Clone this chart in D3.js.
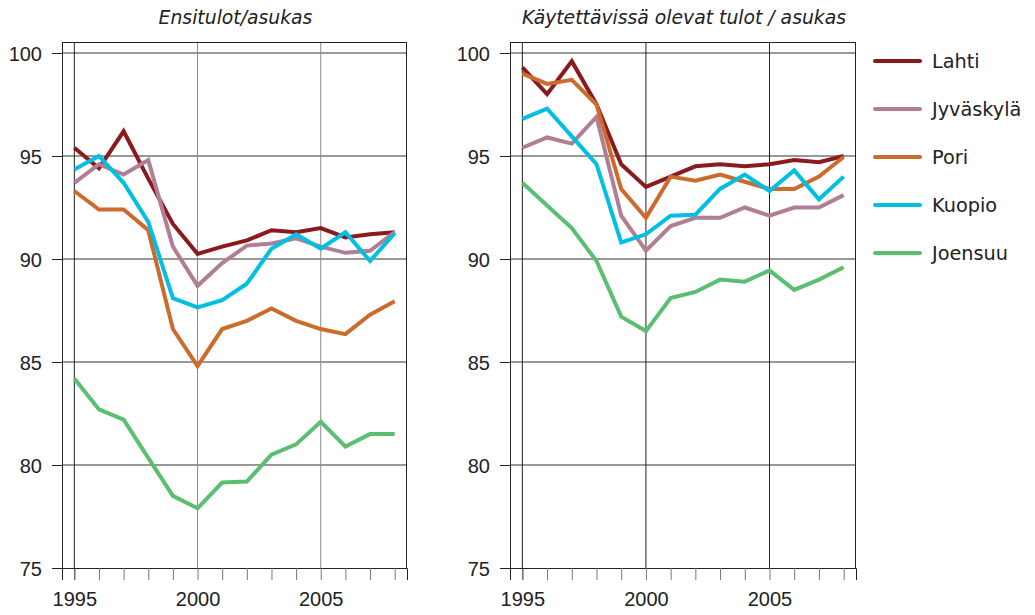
<!DOCTYPE html>
<html><head><meta charset="utf-8">
<script src="https://cdn.jsdelivr.net/npm/d3@7"></script>
<style>
body{margin:0;background:#fff;}
svg{display:block;font-family:"DejaVu Sans",Verdana,sans-serif;}
</style></head>
<body><svg id="c" width="1035" height="615"></svg>
<script>
const years = [1995,1996,1997,1998,1999,2000,2001,2002,2003,2004,2005,2006,2007,2008];
const cities = ["Lahti","Jyväskylä","Pori","Kuopio","Joensuu"];
const colors = ["#8b1a1e","#b07f94","#cc6b2c","#00bfe3","#5bbf72"];
const yTicks = [75,80,85,90,95,100];
const xLabelYears = [1995,2000,2005];
const titles = ["Ensitulot/asukas","Käytettävissä olevat tulot / asukas"];

// Ensitulot/asukas
const primLahti     = [95.4,94.4,96.2,93.9,91.7,90.25,90.6,90.9,91.4,91.3,91.5,91.05,91.2,91.3];
const primJyvaskyla = [93.7,94.6,94.1,94.8,90.6,88.7,89.8,90.65,90.75,91.0,90.6,90.3,90.4,91.3];
const primPori      = [93.3,92.4,92.4,91.4,86.6,84.8,86.6,87.0,87.6,87.0,86.6,86.35,87.3,87.95];
const primKuopio    = [94.35,95.0,93.7,91.8,88.1,87.65,88.0,88.8,90.5,91.2,90.5,91.3,89.9,91.25];
const primJoensuu   = [84.2,82.7,82.2,80.35,78.5,77.9,79.15,79.2,80.5,81.0,82.1,80.9,81.5,81.5];

// Käytettävissä olevat tulot / asukas
const dispLahti     = [99.3,98.0,99.6,97.5,94.6,93.5,94.0,94.5,94.6,94.5,94.6,94.8,94.7,95.0];
const dispJyvaskyla = [95.4,95.9,95.6,96.9,92.1,90.4,91.6,92.0,92.0,92.5,92.1,92.5,92.5,93.1];
const dispPori      = [99.0,98.5,98.7,97.5,93.4,92.0,94.0,93.8,94.1,93.75,93.4,93.4,94.0,94.95];
const dispKuopio    = [96.8,97.3,95.95,94.6,90.8,91.2,92.1,92.15,93.4,94.1,93.3,94.3,92.9,94.0];
const dispJoensuu   = [93.7,92.6,91.5,89.9,87.2,86.5,88.1,88.4,89.0,88.9,89.45,88.5,89.0,89.6];

const panels = [
  {title:titles[0], series:[primLahti,primJyvaskyla,primPori,primKuopio,primJoensuu], x0:62, x1:407, vgrid:"#8a8a8a"},
  {title:titles[1], series:[dispLahti,dispJyvaskyla,dispPori,dispKuopio,dispJoensuu], x0:510, x1:856, vgrid:"#222"}
];

const svg = d3.select("#c");
const frameTop = 42, y = d3.scaleLinear().domain([75,100]).range([568,53]);

panels.forEach(p => {
  const x = d3.scaleLinear().domain([1994.5,2008.5]).range([p.x0,p.x1]);
  const g = svg.append("g");
  g.append("g").selectAll("line").data(yTicks.slice(1)).join("line")
    .attr("x1",p.x0).attr("x2",p.x1).attr("y1",d=>y(d)).attr("y2",d=>y(d))
    .attr("stroke","#333").attr("stroke-width",1);
  g.append("g").selectAll("line").data(xLabelYears).join("line")
    .attr("x1",d=>x(d)).attr("x2",d=>x(d)).attr("y1",frameTop).attr("y2",y(75))
    .attr("stroke",(d,i)=> i===0 ? "#222" : p.vgrid).attr("stroke-width",1);
  g.append("rect").attr("x",p.x0+0.5).attr("y",frameTop+0.5).attr("width",p.x1-p.x0-1).attr("height",y(75)-frameTop)
    .attr("fill","none").attr("stroke","#222").attr("stroke-width",1);
  const ya = g.append("g").attr("transform",`translate(${p.x0},0)`)
    .call(d3.axisLeft(y).tickValues(yTicks).tickSize(10).tickPadding(10).tickFormat(d3.format("d")));
  ya.select(".domain").remove();
  ya.selectAll("line").attr("stroke","#222");
  ya.selectAll("text").attr("font-size",20).attr("fill","#222").attr("dy","0.38em");
  const xa = g.append("g").attr("transform",`translate(0,${y(75)})`)
    .call(d3.axisBottom(x).tickValues(years).tickSize(12).tickPadding(12)
      .tickFormat(d => xLabelYears.includes(d) ? String(d) : ""));
  xa.select(".domain").attr("stroke","#222");
  xa.selectAll("line").attr("stroke",(d)=> d===1995 ? "#222" : "#777");
  xa.selectAll("text").attr("font-size",20).attr("fill","#222");
  g.append("text").attr("x",(p.x0+p.x1)/2+1).attr("y",24).attr("text-anchor","middle")
    .attr("font-size",18.8).attr("font-style","italic").attr("fill","#222").text(p.title);
  const line = d3.line().x((d,i)=>x(years[i])).y(d=>y(d));
  p.series.forEach((s,i)=>{
    g.append("path").datum(s).attr("d",line).attr("fill","none")
      .attr("stroke",colors[i]).attr("stroke-width",4).attr("stroke-linejoin","miter");
  });
});

const lg = svg.append("g");
cities.forEach((c,i)=>{
  const yy = 61 + i*48;
  lg.append("line").attr("x1",875).attr("x2",920).attr("y1",yy).attr("y2",yy)
    .attr("stroke",colors[i]).attr("stroke-width",4).attr("stroke-linecap","round");
  lg.append("text").attr("x",932).attr("y",yy).attr("dy","0.36em").attr("font-size",19.3)
    .attr("fill","#222").text(c);
});
</script></body></html>
